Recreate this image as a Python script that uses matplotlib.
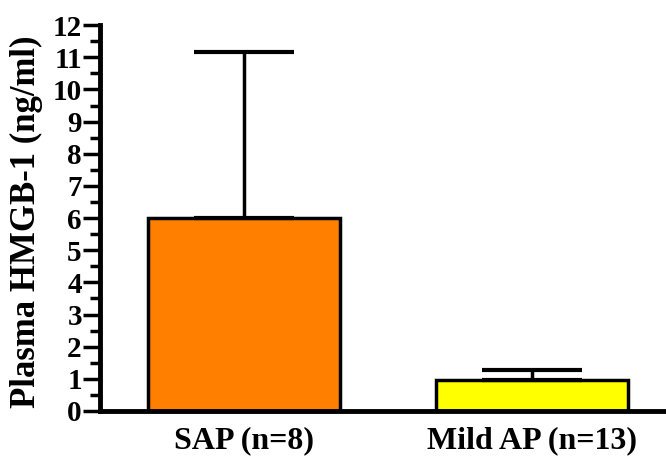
import numpy as np
import matplotlib.pyplot as plt
from matplotlib.ticker import MultipleLocator

groups = ['SAP (n=8)', 'Mild AP (n=13)']
means = [6.0, 0.97]
upper_err = [5.15, 0.30]
colors = ['#ff8000', '#ffff00']
yticks = list(range(0, 13))

plt.rcParams['font.family'] = ['Liberation Serif', 'DejaVu Serif']
plt.rcParams['font.weight'] = 'bold'

fig = plt.figure(figsize=(6.66, 4.57), dpi=100)
ax = fig.add_axes([0.150, 0.1007, 0.85, 0.8443])

x = np.arange(len(groups))
ax.bar(x, means, width=0.667, color=colors, edgecolor='black', linewidth=2.5,
       yerr=[np.zeros(len(means)), upper_err],
       error_kw=dict(ecolor='black', elinewidth=2.5, capsize=36, capthick=3),
       zorder=2)

ax.set_xlim(-0.5, 1.465)
ax.set_ylim(0, 12)
ax.set_yticks(yticks)
ax.set_yticklabels([str(t) for t in yticks], fontsize=21, fontweight='bold')
ax.yaxis.set_minor_locator(MultipleLocator(0.5))
ax.tick_params(axis='y', which='major', length=12, width=2.5, direction='out', pad=1)
ax.tick_params(axis='y', which='minor', length=7, width=2.5, direction='out')
ax.set_xticks(x)
ax.set_xticklabels(groups, fontsize=23, fontweight='bold')
ax.tick_params(axis='x', length=0, pad=11)

ax.spines['top'].set_visible(False)
ax.spines['right'].set_visible(False)
ax.spines['left'].set_linewidth(3.5)
ax.spines['bottom'].set_linewidth(3.5)

ax.set_ylabel('Plasma HMGB-1 (ng/ml)', fontsize=25, fontweight='bold')
ax.yaxis.set_label_coords(-0.100, 0.49)

fig.savefig('out.png', dpi=100)
